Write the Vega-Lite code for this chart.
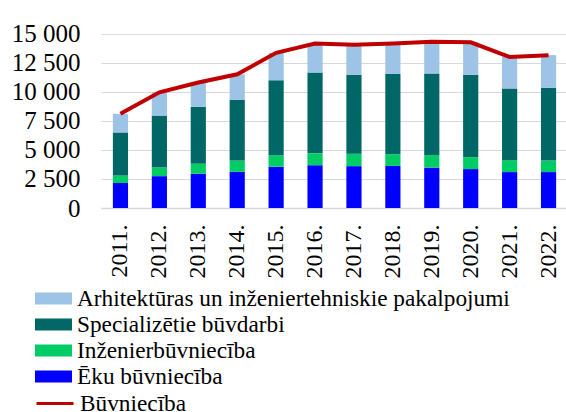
{
  "$schema": "https://vega.github.io/schema/vega-lite/v6.json",
  "width": 467,
  "height": 186,
  "autosize": {"type": "none"},
  "padding": {"left": 101, "top": 22, "right": 0, "bottom": 204},
  "background": "white",
  "config": {
    "font": "Liberation Serif",
    "view": {"stroke": null},
    "axis": {"labelColor": "#000000", "labelFontSize": 24, "ticks": false, "title": null, "labelOverlap": false},
    "legend": {"labelColor": "#000000", "labelFontSize": 23.3, "padding": 0},
    "text": {"font": "Liberation Serif"}
  },
  "datasets": {
    "bars": [
      {"year": "2011.", "series": "Ēku būvniecība", "ord": 1, "value": 2150},
      {"year": "2011.", "series": "Inženierbūvniecība", "ord": 2, "value": 640},
      {"year": "2011.", "series": "Specializētie būvdarbi", "ord": 3, "value": 3710},
      {"year": "2011.", "series": "Arhitektūras un inženiertehniskie pakalpojumi", "ord": 4, "value": 1600},
      {"year": "2012.", "series": "Ēku būvniecība", "ord": 1, "value": 2740},
      {"year": "2012.", "series": "Inženierbūvniecība", "ord": 2, "value": 750},
      {"year": "2012.", "series": "Specializētie būvdarbi", "ord": 3, "value": 4460},
      {"year": "2012.", "series": "Arhitektūras un inženiertehniskie pakalpojumi", "ord": 4, "value": 2000},
      {"year": "2013.", "series": "Ēku būvniecība", "ord": 1, "value": 2950},
      {"year": "2013.", "series": "Inženierbūvniecība", "ord": 2, "value": 860},
      {"year": "2013.", "series": "Specializētie būvdarbi", "ord": 3, "value": 4890},
      {"year": "2013.", "series": "Arhitektūras un inženiertehniskie pakalpojumi", "ord": 4, "value": 2100},
      {"year": "2014.", "series": "Ēku būvniecība", "ord": 1, "value": 3110},
      {"year": "2014.", "series": "Inženierbūvniecība", "ord": 2, "value": 970},
      {"year": "2014.", "series": "Specializētie būvdarbi", "ord": 3, "value": 5240},
      {"year": "2014.", "series": "Arhitektūras un inženiertehniskie pakalpojumi", "ord": 4, "value": 2180},
      {"year": "2015.", "series": "Ēku būvniecība", "ord": 1, "value": 3550},
      {"year": "2015.", "series": "Inženierbūvniecība", "ord": 2, "value": 990},
      {"year": "2015.", "series": "Specializētie būvdarbi", "ord": 3, "value": 6450},
      {"year": "2015.", "series": "Arhitektūras un inženiertehniskie pakalpojumi", "ord": 4, "value": 2360},
      {"year": "2016.", "series": "Ēku būvniecība", "ord": 1, "value": 3680},
      {"year": "2016.", "series": "Inženierbūvniecība", "ord": 2, "value": 1020},
      {"year": "2016.", "series": "Specializētie būvdarbi", "ord": 3, "value": 6950},
      {"year": "2016.", "series": "Arhitektūras un inženiertehniskie pakalpojumi", "ord": 4, "value": 2500},
      {"year": "2017.", "series": "Ēku būvniecība", "ord": 1, "value": 3600},
      {"year": "2017.", "series": "Inženierbūvniecība", "ord": 2, "value": 1070},
      {"year": "2017.", "series": "Specializētie būvdarbi", "ord": 3, "value": 6790},
      {"year": "2017.", "series": "Arhitektūras un inženiertehniskie pakalpojumi", "ord": 4, "value": 2590},
      {"year": "2018.", "series": "Ēku būvniecība", "ord": 1, "value": 3620},
      {"year": "2018.", "series": "Inženierbūvniecība", "ord": 2, "value": 1000},
      {"year": "2018.", "series": "Specializētie būvdarbi", "ord": 3, "value": 6910},
      {"year": "2018.", "series": "Arhitektūras un inženiertehniskie pakalpojumi", "ord": 4, "value": 2620},
      {"year": "2019.", "series": "Ēku būvniecība", "ord": 1, "value": 3470},
      {"year": "2019.", "series": "Inženierbūvniecība", "ord": 2, "value": 1070},
      {"year": "2019.", "series": "Specializētie būvdarbi", "ord": 3, "value": 7030},
      {"year": "2019.", "series": "Arhitektūras un inženiertehniskie pakalpojumi", "ord": 4, "value": 2730},
      {"year": "2020.", "series": "Ēku būvniecība", "ord": 1, "value": 3350},
      {"year": "2020.", "series": "Inženierbūvniecība", "ord": 2, "value": 1030},
      {"year": "2020.", "series": "Specializētie būvdarbi", "ord": 3, "value": 7080},
      {"year": "2020.", "series": "Arhitektūras un inženiertehniskie pakalpojumi", "ord": 4, "value": 2790},
      {"year": "2021.", "series": "Ēku būvniecība", "ord": 1, "value": 3090},
      {"year": "2021.", "series": "Inženierbūvniecība", "ord": 2, "value": 1020},
      {"year": "2021.", "series": "Specializētie būvdarbi", "ord": 3, "value": 6180},
      {"year": "2021.", "series": "Arhitektūras un inženiertehniskie pakalpojumi", "ord": 4, "value": 2710},
      {"year": "2022.", "series": "Ēku būvniecība", "ord": 1, "value": 3090},
      {"year": "2022.", "series": "Inženierbūvniecība", "ord": 2, "value": 990},
      {"year": "2022.", "series": "Specializētie būvdarbi", "ord": 3, "value": 6260},
      {"year": "2022.", "series": "Arhitektūras un inženiertehniskie pakalpojumi", "ord": 4, "value": 2810}
    ],
    "total": [
      {"year": "2011.", "name": "Būvniecība", "value": 8100},
      {"year": "2012.", "name": "Būvniecība", "value": 9950},
      {"year": "2013.", "name": "Būvniecība", "value": 10800},
      {"year": "2014.", "name": "Būvniecība", "value": 11500},
      {"year": "2015.", "name": "Būvniecība", "value": 13350},
      {"year": "2016.", "name": "Būvniecība", "value": 14150},
      {"year": "2017.", "name": "Būvniecība", "value": 14050},
      {"year": "2018.", "name": "Būvniecība", "value": 14150},
      {"year": "2019.", "name": "Būvniecība", "value": 14300},
      {"year": "2020.", "name": "Būvniecība", "value": 14250},
      {"year": "2021.", "name": "Būvniecība", "value": 13000},
      {"year": "2022.", "name": "Būvniecība", "value": 13150}
    ]
  },
  "encoding": {
    "x": {
      "field": "year", "type": "nominal", "sort": null,
      "scale": {"paddingInner": 0.61},
      "axis": {"labelAngle": -90, "labelPadding": 16, "domainColor": "#d9d9d9", "domainWidth": 1.5, "labelBaseline": "middle", "labelAlign": "right", "labelFont": "Liberation Serif"}
    }
  },
  "layer": [
    {
      "data": {"name": "bars"},
      "mark": {"type": "bar"},
      "encoding": {
        "y": {
          "field": "value", "type": "quantitative", "stack": "zero",
          "scale": {"domain": [0, 15000]},
          "axis": {
            "values": [0, 2500, 5000, 7500, 10000, 12500, 15000],
            "labelExpr": "replace(format(datum.value, ','), ',', ' ')",
            "domain": false, "gridColor": "#d9d9d9", "gridWidth": 1.2, "labelPadding": 21, "labelOverlap": false, "labelFont": "Liberation Serif", "labelFontSize": 25
          }
        },
        "order": {"field": "ord", "type": "quantitative"},
        "color": {
          "field": "series", "type": "nominal",
          "scale": {
            "domain": ["Arhitektūras un inženiertehniskie pakalpojumi", "Specializētie būvdarbi", "Inženierbūvniecība", "Ēku būvniecība"],
            "range": ["#9DC3E6", "#006666", "#00CC66", "#0000FF"]
          },
          "legend": {
            "title": null, "orient": "none", "legendX": -66, "legendY": 265, "labelFont": "Liberation Serif",
            "symbolType": "M-1,-0.32H1V0.32H-1Z", "symbolSize": 1369, "symbolStrokeWidth": 0,
            "labelOffset": 5, "rowPadding": 2, "labelLimit": 600, "clipHeight": 23
          }
        }
      }
    },
    {
      "data": {"name": "total"},
      "mark": {"type": "line", "strokeWidth": 4},
      "encoding": {
        "y": {
          "field": "value", "type": "quantitative",
          "axis": {
            "values": [0, 2500, 5000, 7500, 10000, 12500, 15000],
            "labelExpr": "replace(format(datum.value, ','), ',', ' ')",
            "domain": false, "gridColor": "#d9d9d9", "gridWidth": 1.2, "labelPadding": 21, "labelOverlap": false, "labelFont": "Liberation Serif", "labelFontSize": 25
          }
        },
        "stroke": {
          "field": "name", "type": "nominal",
          "scale": {"range": ["#C00000"]},
          "legend": {
            "title": null, "orient": "none", "legendX": -66, "legendY": 370, "labelFont": "Liberation Serif",
            "symbolType": "M-1,0H1", "symbolSize": 1369, "symbolStrokeWidth": 3,
            "labelOffset": 5, "labelLimit": 600, "clipHeight": 23
          }
        }
      }
    }
  ]
}
